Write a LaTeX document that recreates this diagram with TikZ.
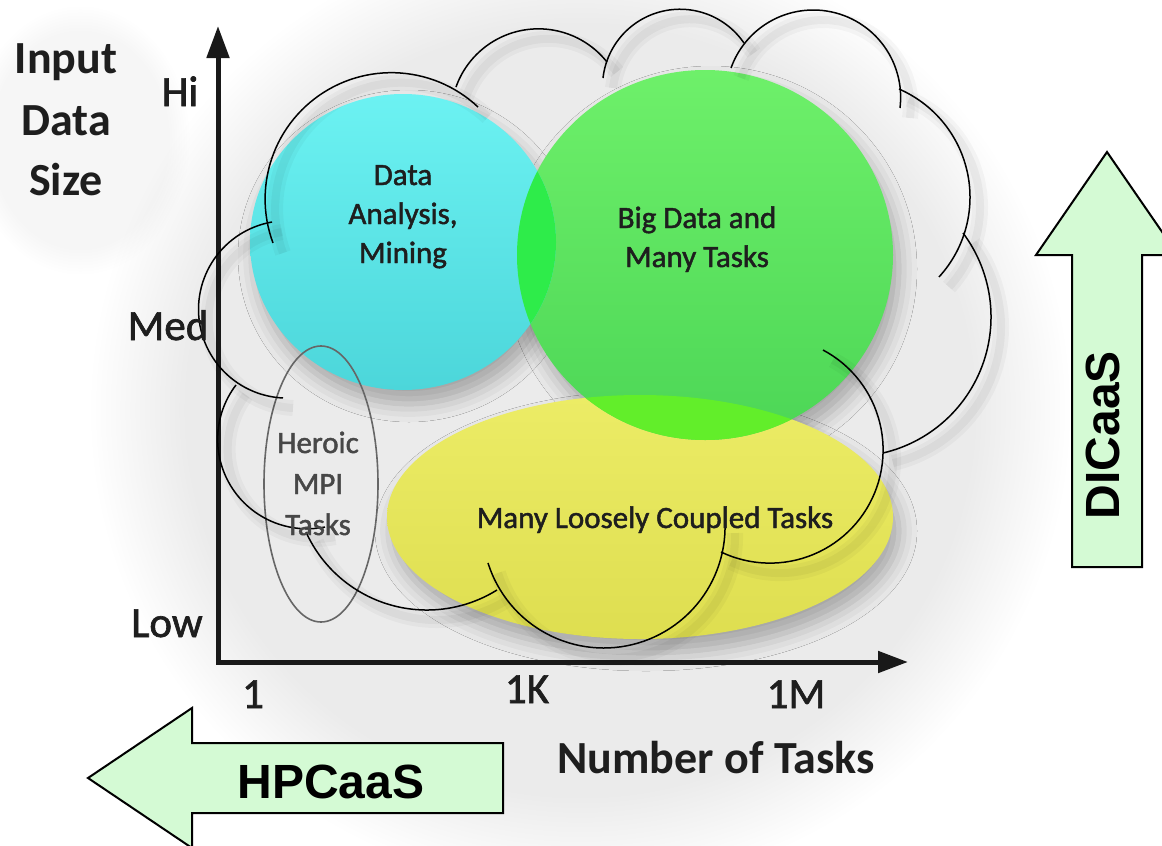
\documentclass[tikz,border=0pt]{standalone}
\usepackage{fontspec}
\setmainfont{Carlito}
\newfontfamily\mediumfont{Carlito}[FakeBold=1.5]
\newfontfamily\arrowfont{Liberation Sans}
\usetikzlibrary{arrows.meta,fadings,shadows.blur}

\definecolor{cyanA}{HTML}{6CF2F2}
\definecolor{cyanB}{HTML}{4CD6DA}
\definecolor{greenA}{HTML}{6EF06A}
\definecolor{greenB}{HTML}{4CD656}
\definecolor{yellowA}{HTML}{ECEC66}
\definecolor{yellowB}{HTML}{DEDE50}
\definecolor{cgmix}{HTML}{2EEC4A}
\definecolor{gymix}{HTML}{62EE2A}
\definecolor{arrowfill}{HTML}{D4FAD4}
\definecolor{inktext}{HTML}{1E1E1E}

% One arc of the cloud outline: the circle through three points (in px),
% traced from the first point through the second to the third.
\newcommand\cloudarc[6]{%
  \pgfmathsetmacro\caAx{#1/100}\pgfmathsetmacro\caAy{#2/100}%
  \pgfmathsetmacro\caBx{#3/100}\pgfmathsetmacro\caBy{#4/100}%
  \pgfmathsetmacro\caCx{#5/100}\pgfmathsetmacro\caCy{#6/100}%
  \pgfmathsetmacro\caD{2*(\caAx*(\caBy-\caCy)+\caBx*(\caCy-\caAy)+\caCx*(\caAy-\caBy))}%
  \pgfmathsetmacro\caUx{((\caAx*\caAx+\caAy*\caAy)*(\caBy-\caCy)+(\caBx*\caBx+\caBy*\caBy)*(\caCy-\caAy)+(\caCx*\caCx+\caCy*\caCy)*(\caAy-\caBy))/\caD}%
  \pgfmathsetmacro\caUy{((\caAx*\caAx+\caAy*\caAy)*(\caCx-\caBx)+(\caBx*\caBx+\caBy*\caBy)*(\caAx-\caCx)+(\caCx*\caCx+\caCy*\caCy)*(\caBx-\caAx))/\caD}%
  \pgfmathsetmacro\caR{veclen(\caAx-\caUx,\caAy-\caUy)}%
  \pgfmathsetmacro\caTA{atan2(\caAy-\caUy,\caAx-\caUx)}%
  \pgfmathsetmacro\caTB{atan2(\caBy-\caUy,\caBx-\caUx)}%
  \pgfmathsetmacro\caTC{atan2(\caCy-\caUy,\caCx-\caUx)}%
  \pgfmathsetmacro\caDC{mod(\caTC-\caTA+720,360)}%
  \pgfmathsetmacro\caDB{mod(\caTB-\caTA+720,360)}%
  \pgfmathsetmacro\caTE{ifthenelse(\caDB<\caDC,\caTA+\caDC,\caTA+\caDC-360)}%
  \pgfmathsetmacro\caLo{min(\caTA,\caTE)}%
  \pgfmathsetmacro\caHi{max(\caTA,\caTE)}%
  \draw[cloudpen] plot[domain=\caLo:\caHi, samples=60]
    ({100*(\caUx+\caR*cos(\x))},{100*(\caUy+\caR*sin(\x))});%
}

% The eleven bumps of the cloud
\newcommand\cloudoutline{%
  \cloudarc{273}{243}{337}{85}{478}{107}%
  \cloudarc{456}{87}{544}{29}{607}{62}%
  \cloudarc{603}{78}{691}{10}{744}{43}%
  \cloudarc{731}{68}{814}{10}{900}{108}%
  \cloudarc{899}{89}{970}{200}{939}{277}%
  \cloudarc{963}{233}{991}{320}{883}{453}%
  \cloudarc{823}{350}{883}{455}{721}{552}%
  \cloudarc{725}{523}{602}{648}{488}{563}%
  \cloudarc{497}{590}{425}{610}{306}{532}%
  \cloudarc{325}{527}{218}{447}{236}{385}%
  \cloudarc{283}{398}{199}{300}{272}{222}%
}

\tikzset{
  cloudpen/.style={black, line width=1.5pt},
  axisline/.style={line width=5pt, draw=black!90, line join=miter},
  ticklabel/.style={font=\mediumfont\fontsize{43}{48}\selectfont, text=inktext, anchor=base, inner sep=0pt},
  axistitle/.style={font=\bfseries\fontsize{46}{52}\selectfont, text=inktext, anchor=base, inner sep=0pt},
  bubbletext/.style={font=\mediumfont\fontsize{31}{36}\selectfont, text=inktext, anchor=base, inner sep=0pt},
  blockarrow/.style={fill=arrowfill, draw=black, line width=2pt, line join=miter},
  arrowtext/.style={font=\arrowfont\bfseries\fontsize{48}{56}\selectfont, text=black, inner sep=0pt},
  softshadow/.style={blur shadow={shadow xshift=6pt, shadow yshift=-14pt, shadow blur radius=18pt, shadow opacity=30}},
}

\begin{document}
\begin{tikzpicture}[x=1pt,y=-1pt]
\useasboundingbox (0,0) rectangle (1162,846);
\clip (0,0) rectangle (1162,846);
\fill[white] (0,0) rectangle (1162,846);

% soft grey haze behind the chart and the axis title
\fill[black, opacity=0.08, path fading=circle with fuzzy edge 20 percent]
  (580,410) ellipse [x radius=490, y radius=480];
\fill[black, opacity=0.035, path fading=circle with fuzzy edge 20 percent]
  (80,140) ellipse [x radius=110, y radius=135];

% drop shadows of the regions
\path[softshadow] (640,517) ellipse [x radius=253, y radius=122];
\path[softshadow] (705,255) ellipse [x radius=188, y radius=185];
\path[softshadow] (403,242) ellipse [x radius=153, y radius=148];

% regions
\shade[top color=yellowA, bottom color=yellowB] (640,517) ellipse [x radius=253, y radius=122];
\shade[top color=greenA, bottom color=greenB] (705,255) ellipse [x radius=188, y radius=185];
\shade[top color=cyanA, bottom color=cyanB] (403,242) ellipse [x radius=153, y radius=148];
\begin{scope}
  \clip (403,242) ellipse [x radius=153, y radius=148];
  \fill[cgmix] (705,255) ellipse [x radius=188, y radius=185];
\end{scope}
\begin{scope}
  \clip (705,255) ellipse [x radius=188, y radius=185];
  \fill[gymix] (640,517) ellipse [x radius=253, y radius=122];
\end{scope}
\draw[black!60, line width=1.6pt] (321,484) ellipse [x radius=57, y radius=138];

% axes
\coordinate (origin) at (218,662);
\coordinate (ytip) at (218,26);
\coordinate (xtip) at (908,662);
\draw[axisline, {Triangle[length=32pt,width=22pt]}-{Triangle[length=30pt,width=21pt]}]
  (ytip) -- (origin) -- (xtip);

% blurred shadow of the cloud outline
\begin{scope}[shift={(10,10)}]
  \tikzset{cloudpen/.style={black, opacity=0.03, line width=16pt}}
  \cloudoutline
  \tikzset{cloudpen/.style={black, opacity=0.04, line width=8pt}}
  \cloudoutline
\end{scope}
% cloud outline
\cloudoutline

% axis labels
\node[axistitle] (ytitleA) at (66,73) {Input};
\node[axistitle] (ytitleB) at (66,135) {Data};
\node[axistitle] (ytitleC) at (66,195) {Size};
\node[ticklabel] (hi) at (180,106) {Hi};
\node[ticklabel] (med) at (168,340) {Med};
\node[ticklabel] (low) at (167,637) {Low};
\node[ticklabel] (tone) at (253,708) {1};
\node[ticklabel] (tkilo) at (527,703) {1K};
\node[ticklabel] (tmega) at (796,708) {1M};
\node[axistitle] (xtitle) at (716,773) {Number of Tasks};

% region labels
\node[bubbletext] (daA) at (403,185) {Data};
\node[bubbletext] (daB) at (403,224) {Analysis,};
\node[bubbletext] (daC) at (403,263) {Mining};
\node[bubbletext] (bdA) at (697,228) {Big Data and};
\node[bubbletext] (bdB) at (697,267) {Many Tasks};
\node[bubbletext] (mlct) at (655,528) {Many Loosely Coupled Tasks};
\node[bubbletext, text=black!72] (heA) at (318,453) {Heroic};
\node[bubbletext, text=black!72] (heB) at (318,494) {MPI};
\node[bubbletext, text=black!72] (heC) at (318,535) {Tasks};

% direction arrows
\draw[blockarrow] (88,778) -- (192,708) -- (192,743) -- (503,743) -- (503,813)
  -- (192,813) -- (192,848) -- cycle;
\node[arrowtext, anchor=base] (hpc) at (331,798) {HPCaaS};
\draw[blockarrow] (1107,152) -- (1178,255) -- (1142,255) -- (1142,567)
  -- (1072,567) -- (1072,255) -- (1036,255) -- cycle;
\node[arrowtext, rotate=90] (dic) at (1103,435) {DICaaS};
\end{tikzpicture}
\end{document}
